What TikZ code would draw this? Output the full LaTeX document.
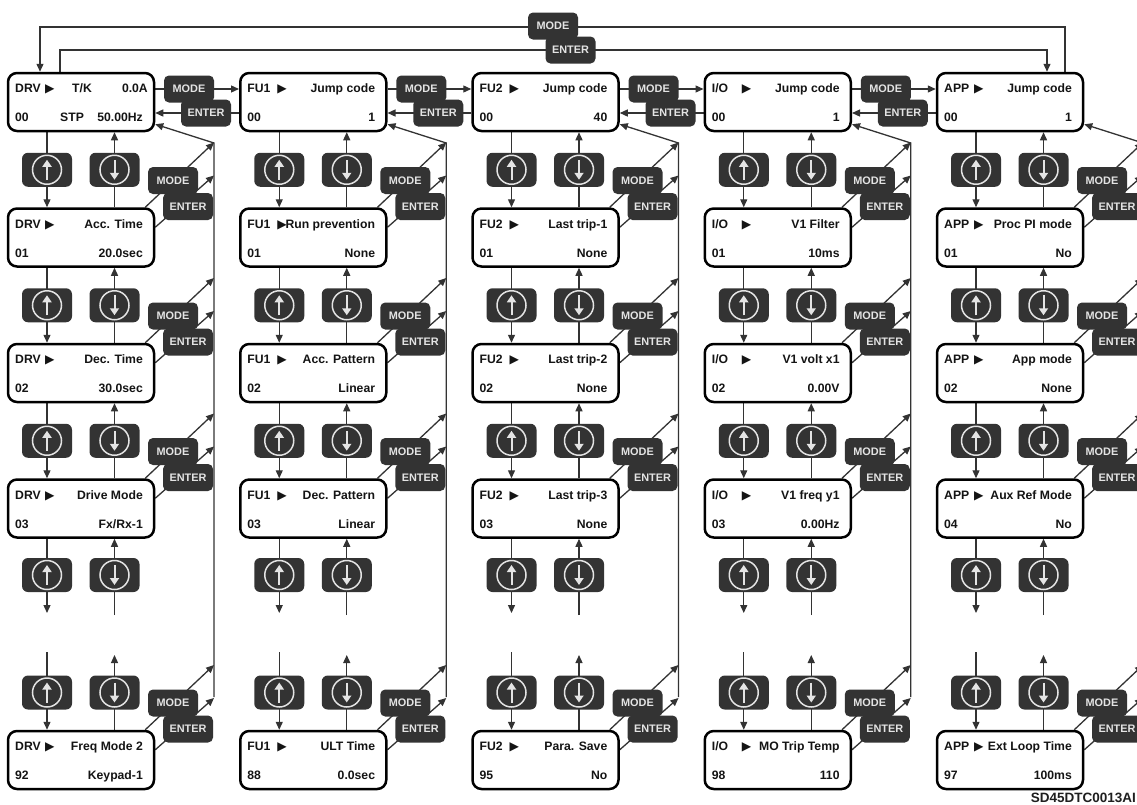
\documentclass[tikz,border=0pt]{standalone}
\usepackage{fontspec}
\setmainfont{Liberation Sans}
\newfontfamily\symf{DejaVu Sans}
\usetikzlibrary{arrows.meta,calc}
\pgfdeclarelayer{bg}
\pgfsetlayers{bg,main}
\definecolor{keyfill}{HTML}{333333}
\definecolor{keytext}{HTML}{E4E4E4}
\definecolor{linec}{HTML}{333333}
\newcommand\dtxt{\fontsize{12.2}{14}\selectfont\bfseries}
\newcommand\ktxt{\fontsize{10.9}{12}\selectfont\bfseries}
\newcommand\dispbox[7]{%
  \node[disp] (#1) at ({#2+73},{#3+29}) {};
  \node[lt] (#1g) at ({#2+7},{#3+19.6}) {#4};
  \node[lt] (#1a) at ({#2+37},{#3+19.6}) {\symf ▶};
  \node[rt] (#1t) at ({#2+135},{#3+19.6}) {#5};
  \node[lt] (#1c) at ({#2+7},{#3+48.6}) {#6};
  \node[rt] (#1v) at ({#2+135},{#3+48.6}) {#7};
}
\begin{document}
\begin{tikzpicture}[x=1pt,y=-1pt,
  disp/.style={draw=black,line width=2.5pt,rounded corners=9pt,minimum width=146pt,minimum height=58pt,inner sep=0pt,fill=white},
  lt/.style={anchor=base west,inner sep=0pt,font=\dtxt,text=black!92},
  rt/.style={anchor=base east,inner sep=0pt,font=\dtxt,text=black!92},
  kbtn/.style={fill=keyfill,rounded corners=5pt,minimum width=50pt,minimum height=27pt,inner sep=0pt,text=keytext,font=\ktxt},
  ud/.style={fill=keyfill,rounded corners=6pt,minimum width=50pt,minimum height=34pt,inner sep=0pt},
  upk/.style={ud,path picture={
     \draw[keytext,line width=1.5pt] (path picture bounding box.center) circle[radius=14.5pt];
     \draw[keytext,line width=2pt,-{Triangle[length=7pt,width=9pt]}] ([yshift=-10pt]path picture bounding box.center) -- ([yshift=10pt]path picture bounding box.center);}},
  dnk/.style={ud,path picture={
     \draw[keytext,line width=1.5pt] (path picture bounding box.center) circle[radius=14.5pt];
     \draw[keytext,line width=2pt,-{Triangle[length=7pt,width=9pt]}] ([yshift=10pt]path picture bounding box.center) -- ([yshift=-10pt]path picture bounding box.center);}},
  conn/.style={draw=linec,line width=1.3pt,-{Triangle[length=8pt,width=7pt]}}]
\useasboundingbox (0,0) rectangle (1137,804);

% ---------- display boxes ----------
\node[disp] (b11) at (81,102) {};
\node[lt] (b11g) at (15,92.6) {DRV};
\node[lt] (b11a) at (45,92.6) {\symf ▶};
\node[lt] (b11t) at (72,92.6) {T/K};
\node[rt] (b11t2) at (148,92.6) {0.0A};
\node[lt] (b11c) at (15,121.6) {00};
\node[lt] (b11s) at (60,121.6) {STP};
\node[rt] (b11v) at (143,121.6) {50.00Hz};
\dispbox{b12}{8}{208.5}{DRV}{Acc. Time}{01}{20.0sec}
\dispbox{b13}{8}{344}{DRV}{Dec. Time}{02}{30.0sec}
\dispbox{b14}{8}{479.5}{DRV}{Drive Mode}{03}{Fx/Rx-1}
\dispbox{b15}{8}{731}{DRV}{Freq Mode 2}{92}{Keypad-1}

\dispbox{b21}{240.25}{73}{FU1}{Jump code}{00}{1}
\dispbox{b22}{240.25}{208.5}{FU1}{Run prevention}{01}{None}
\dispbox{b23}{240.25}{344}{FU1}{Acc. Pattern}{02}{Linear}
\dispbox{b24}{240.25}{479.5}{FU1}{Dec. Pattern}{03}{Linear}
\dispbox{b25}{240.25}{731}{FU1}{ULT Time}{88}{0.0sec}

\dispbox{b31}{472.5}{73}{FU2}{Jump code}{00}{40}
\dispbox{b32}{472.5}{208.5}{FU2}{Last trip-1}{01}{None}
\dispbox{b33}{472.5}{344}{FU2}{Last trip-2}{02}{None}
\dispbox{b34}{472.5}{479.5}{FU2}{Last trip-3}{03}{None}
\dispbox{b35}{472.5}{731}{FU2}{Para. Save}{95}{No}

\dispbox{b41}{704.75}{73}{I/O}{Jump code}{00}{1}
\dispbox{b42}{704.75}{208.5}{I/O}{V1 Filter}{01}{10ms}
\dispbox{b43}{704.75}{344}{I/O}{V1 volt x1}{02}{0.00V}
\dispbox{b44}{704.75}{479.5}{I/O}{V1 freq y1}{03}{0.00Hz}
\dispbox{b45}{704.75}{731}{I/O}{MO Trip Temp}{98}{110}

\dispbox{b51}{937}{73}{APP}{Jump code}{00}{1}
\dispbox{b52}{937}{208.5}{APP}{Proc PI mode}{01}{No}
\dispbox{b53}{937}{344}{APP}{App mode}{02}{None}
\dispbox{b54}{937}{479.5}{APP}{Aux Ref Mode}{04}{No}
\dispbox{b55}{937}{731}{APP}{Ext Loop Time}{97}{100ms}

% ---------- keys ----------
\foreach \c/\L in {1/8,2/240.25,3/472.5,4/704.75,5/937}{
  \foreach \r/\Y in {1/169.75,2/305.25,3/440.75,4/575,5/692.5}{
    \node[upk] (u\c\r) at ({\L+39},\Y) {};
    \node[dnk] (d\c\r) at ({\L+106.5},\Y) {};
  }
  \foreach \r/\T in {2/208.5,3/344,4/479.5,5/731}{
    \node[kbtn] (km\c\r) at ({\L+165},{\T-28}) {MODE};
    \node[kbtn] (ke\c\r) at ({\L+180},{\T-2}) {ENTER};
    \coordinate (am\c\r) at ({\L+206},{\T-66});
    \coordinate (ae\c\r) at ({\L+206},{\T-33});
  }
  \coordinate (rt\c) at ({\L+206},143);
  \coordinate (rb\c) at ({\L+206},697);
  \coordinate (ga\c) at ({\L+39},613);
  \coordinate (gb\c) at ({\L+106.5},615);
  \coordinate (gc\c) at ({\L+39},652);
  \coordinate (gd\c) at ({\L+106.5},655);
}
\foreach \c/\L in {1/8,2/240.25,3/472.5,4/704.75}{
  \node[kbtn] (mk\c) at ({\L+181},89) {MODE};
  \node[kbtn] (ek\c) at ({\L+198},113) {ENTER};
}
\node[kbtn] (tm) at (553,26) {MODE};
\node[kbtn] (te) at (570.5,50) {ENTER};
\coordinate (tl1) at (40,27);
\coordinate (tr1) at (1065,27);
\coordinate (tl2) at (60,50);
\coordinate (tr2) at (1047,50);

\node[anchor=base east,inner sep=0pt,font=\fontsize{13.5}{15}\selectfont\bfseries,text=black!88] (lbl) at (1136,802.5) {SD45DTC0013AI};

% ---------- connectors ----------
\begin{pgfonlayer}{bg}
\fill[white] (0,0) rectangle (1137,804);
\foreach \c in {1,2,3,4,5}{
  \foreach \r/\n in {1/2,2/3,3/4}{
    \draw[conn] (u\c\r |- b\c\r.south) -- (u\c\r |- b\c\n.north);
    \draw[conn] (d\c\r |- b\c\n.north) -- (d\c\r |- b\c\r.south);
  }
  \draw[conn] (u\c4 |- b\c4.south) -- (ga\c);
  \draw[conn] (gb\c) -- (d\c4 |- b\c4.south);
  \draw[conn] (gc\c) -- (u\c5 |- b\c5.north);
  \draw[conn] (d\c5 |- b\c5.north) -- (gd\c);
  \draw[conn] (rb\c) -- (rt\c) -- ([yshift=8pt]b\c1.south east);
  \foreach \r in {2,3,4,5}{
    \draw[conn] ([xshift=-10pt]b\c\r.north east) -- (am\c\r);
    \draw[conn] ([yshift=-20pt]b\c\r.north east) -- (ae\c\r);
  }
}
\foreach \c/\n in {1/2,2/3,3/4,4/5}{
  \draw[conn] (b\c1.north east |- mk\c) -- (b\n1.north west |- mk\c);
  \draw[conn] (b\n1.north west |- ek\c) -- (b\c1.north east |- ek\c);
}
\draw[conn] (tr1 |- b51.north) -- (tr1) -- (tl1) -- (tl1 |- b11.north);
\draw[conn] (tl2 |- b11.north) -- (tl2) -- (tr2) -- (tr2 |- b51.north);
\end{pgfonlayer}
\end{tikzpicture}
\end{document}
